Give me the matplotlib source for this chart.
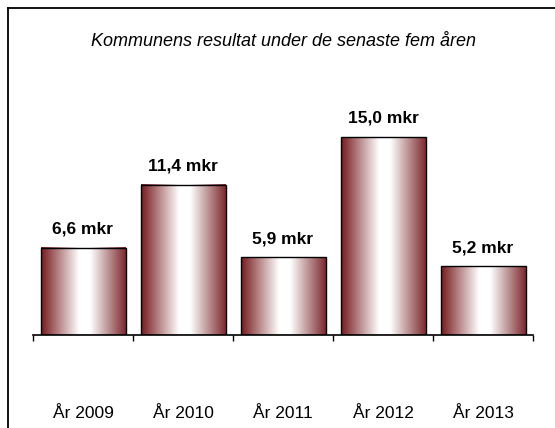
import numpy as np
import matplotlib.pyplot as plt
from matplotlib.colors import LinearSegmentedColormap
from matplotlib.lines import Line2D

plt.rcParams["font.family"] = ["Liberation Sans", "DejaVu Sans"]

# data
years = ["År 2009", "År 2010", "År 2011", "År 2012", "År 2013"]
result = [6.6, 11.4, 5.9, 15.0, 5.2]
labels = ["6,6 mkr", "11,4 mkr", "5,9 mkr", "15,0 mkr", "5,2 mkr"]

fig = plt.figure(figsize=(5.55, 4.28), dpi=100)
ax = fig.add_axes([33 / 555, 93 / 428, 500 / 555, 264 / 428])

# gradient for the bars (dark red -> white -> dark red)
cmap = LinearSegmentedColormap.from_list(
    "cyl", [(0.0, "#761a1e"), (0.45, "#ffffff"), (0.58, "#ffffff"), (1.0, "#7d2a2e")]
)
grad = np.linspace(0, 1, 256).reshape(1, -1)

x = np.arange(len(years))
bars = ax.bar(x, result, width=0.85, facecolor="none", edgecolor="black", linewidth=1.0, zorder=3)
for b in bars:
    x0, y0 = b.get_x(), b.get_y()
    ax.imshow(grad, cmap=cmap, aspect="auto", zorder=2,
              extent=[x0, x0 + b.get_width(), y0, y0 + b.get_height()])

for xi, v, lab in zip(x, result, labels):
    ax.annotate(lab, (xi, v), xytext=(0, 8), textcoords="offset points",
                ha="center", va="bottom", fontsize=12.5, fontweight="bold")

ax.set_xlim(-0.5, len(years) - 0.5)
ax.set_ylim(0, 20)

for s in ["left", "right", "top"]:
    ax.spines[s].set_visible(False)
ax.spines["bottom"].set_linewidth(1.2)
ax.set_yticks([])

# ticks at category boundaries, labels at centers
ax.set_xticks(np.arange(len(years) + 1) - 0.5)
ax.set_xticklabels([])
ax.tick_params(axis="x", which="major", length=4, width=1.0, direction="out")
ax.set_xticks(x, minor=True)
ax.set_xticklabels(years, minor=True, fontsize=12.5)
ax.tick_params(axis="x", which="minor", length=0, pad=51)

fig.text(0.51, 1 - 42 / 428, "Kommunens resultat under de senaste fem åren",
         ha="center", va="center", fontsize=13, style="italic")

# outer frame (left and top edges)
fig.add_artist(Line2D([8 / 555, 8 / 555], [0, 1 - 8 / 428], transform=fig.transFigure,
                      color="black", linewidth=1.3))
fig.add_artist(Line2D([8 / 555, 1], [1 - 8 / 428, 1 - 8 / 428], transform=fig.transFigure,
                      color="black", linewidth=1.3))

fig.savefig("out.png", dpi=100)
